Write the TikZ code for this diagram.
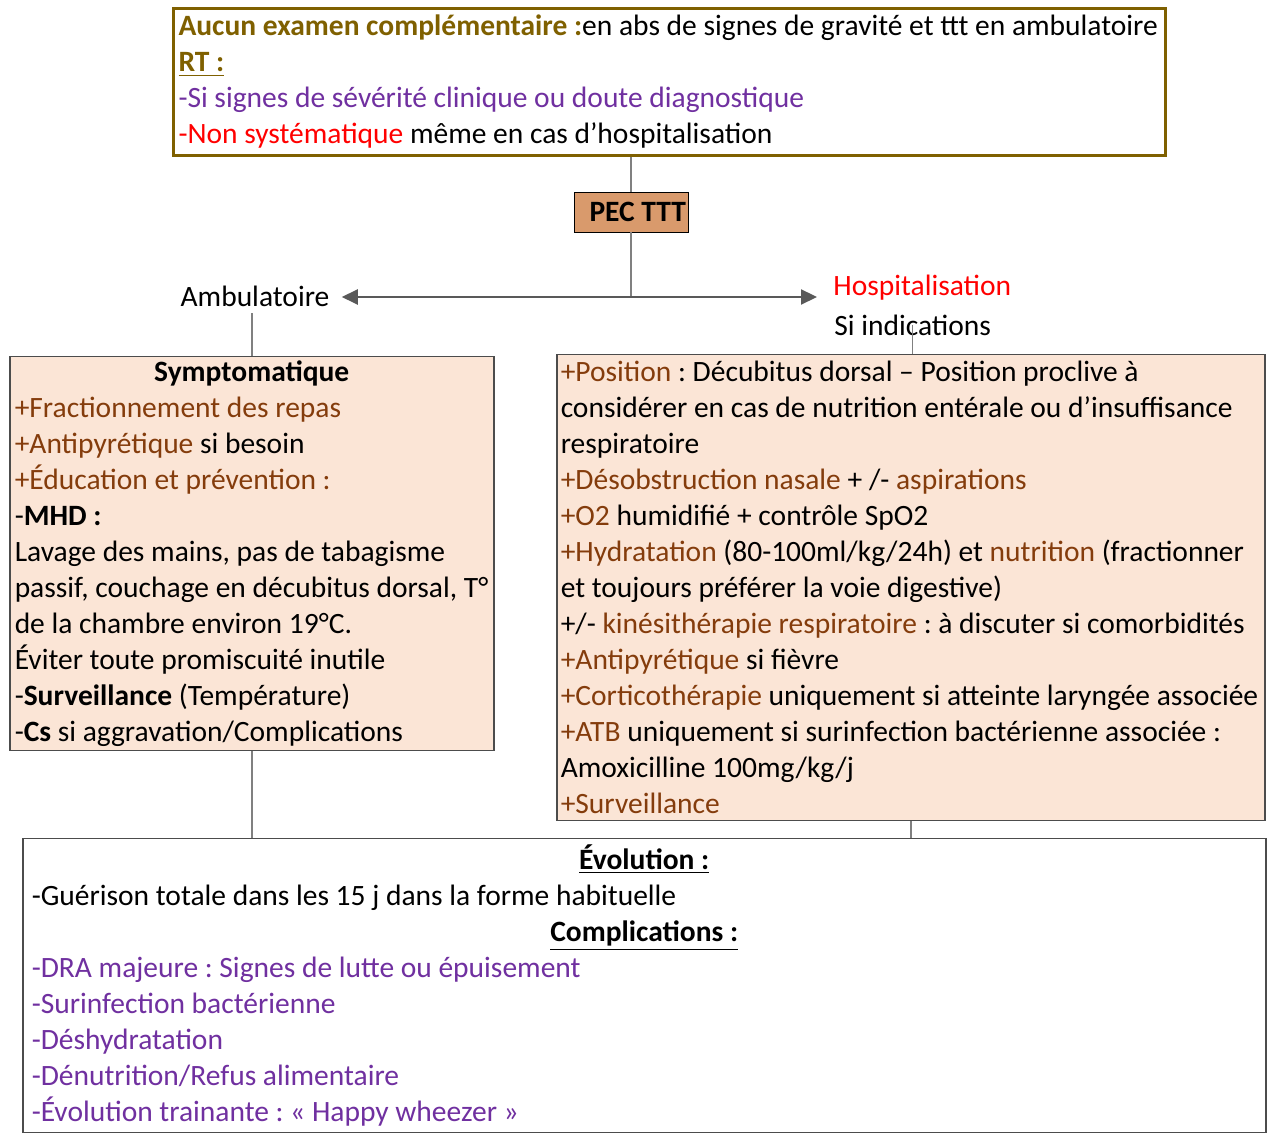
\documentclass[tikz,border=0pt]{standalone}
\usepackage{fontspec}
\setmainfont{Carlito}
\usetikzlibrary{arrows.meta,positioning}
\definecolor{olivebrun}{HTML}{7F6000}
\definecolor{brun}{HTML}{843C0C}
\definecolor{violet}{HTML}{7030A0}
\definecolor{peau}{HTML}{FBE5D6}
\definecolor{pecfond}{HTML}{D99A6C}
\definecolor{grisfleche}{HTML}{595959}
\newcommand{\br}[1]{\textcolor{brun}{#1}}
\newcommand{\vi}[1]{\textcolor{violet}{#1}}
\frenchspacing
\begin{document}
\begin{tikzpicture}[x=0.5pt,y=-0.5pt,
    every node/.style={font=\fontsize{14.75}{18}\selectfont},
    boite/.style={draw=black!70,line width=0.75pt,anchor=north west,align=flush left,inner xsep=4pt,inner ysep=0pt},
    lien/.style={draw=black!50,line width=0.75pt},
    fleche/.style={draw=grisfleche,line width=1.1pt,-{Triangle[length=8pt,width=7.5pt]}}]
  \useasboundingbox (0,0) rectangle (1270,1133);
  % top box
  \node[boite,draw=olivebrun,line width=1.5pt,minimum width=496pt,minimum height=73.5pt,text width=491pt,inner xsep=2.5pt] (haut) at (172,7)
    {\textcolor{olivebrun}{\textbf{Aucun examen complémentaire :}}en abs de signes de gravité et ttt en ambulatoire\\
     \textcolor{olivebrun}{\textbf{\underline{RT :}}}\\
     \vi{-Si signes de sévérité clinique ou doute diagnostique}\\
     \textcolor{red}{-Non systématique} même en cas d’hospitalisation};
  \node[draw=black,fill=pecfond,minimum height=20pt,text width=55pt,align=flush right,inner xsep=1pt,inner ysep=0pt,font=\fontsize{14.75}{18}\selectfont\bfseries] (pec) at (631,212) {PEC TTT};
  \coordinate (split) at (631,297);
  \node[inner xsep=6pt] (ambu) at (255,296) {Ambulatoire};
  \node[text=red,anchor=west,inner xsep=8pt] (hospi) at (817,288) {Hospitalisation};
  \node[anchor=west,inner sep=0pt] (siind) at (834,325) {Si indications};
  % boxes
  \node[boite,fill=peau,minimum width=242pt,minimum height=197pt,text width=237pt,inner xsep=2.5pt] (symp) at (9,356)
    {\makebox[\linewidth]{\textbf{Symptomatique}}\\
     \br{+Fractionnement des repas}\\
     \br{+Antipyrétique} si besoin\\
     \br{+Éducation et prévention :}\\
     -\textbf{MHD :}\\
     Lavage des mains, pas de tabagisme\\
     passif, couchage en décubitus dorsal, T°\\
     de la chambre environ 19°C.\\
     Éviter toute promiscuité inutile\\
     -\textbf{Surveillance} (Température)\\
     -\textbf{Cs} si aggravation/Complications};
  \node[boite,fill=peau,minimum width=354pt,minimum height=233pt,text width=350pt,inner xsep=2pt] (hosp) at (556,354)
    {\br{+Position} : Décubitus dorsal – Position proclive à\\
     considérer en cas de nutrition entérale ou d’insuffisance\\
     respiratoire\\
     \br{+Désobstruction nasale} + /- \br{aspirations}\\
     \br{+O2} humidifié + contrôle SpO2\\
     \br{+Hydratation} (80-100ml/kg/24h) et \br{nutrition} (fractionner\\
     et toujours préférer la voie digestive)\\
     +/- \br{kinésithérapie respiratoire} : à discuter si comorbidités\\
     \br{+Antipyrétique} si fièvre\\
     \br{+Corticothérapie} uniquement si atteinte laryngée associée\\
     \br{+ATB} uniquement si surinfection bactérienne associée :\\
     Amoxicilline 100mg/kg/j\\
     \br{+Surveillance}};
  \node[boite,fill=white,minimum width=621.5pt,minimum height=147pt,text width=612.5pt,inner xsep=4.5pt] (evol) at (22,838)
    {\makebox[\linewidth]{\textbf{\underline{Évolution :}}}\\
     -Guérison totale dans les 15 j dans la forme habituelle\\
     \makebox[\linewidth]{\textbf{\underline{Complications :}}}\\
     \vi{-DRA majeure : Signes de lutte ou épuisement}\\
     \vi{-Surinfection bactérienne}\\
     \vi{-Déshydratation}\\
     \vi{-Dénutrition/Refus alimentaire}\\
     \vi{-Évolution trainante : « Happy wheezer »}};
  % connectors
  \draw[lien] (pec.north |- haut.south) -- (pec.north);
  \draw[lien] (pec.south) -- (split);
  \draw[fleche] (split) -- (ambu.east |- split);
  \draw[fleche] (split) -- (hospi.west |- split);
  \draw[lien] (symp.north |- ambu.south) -- (symp.north);
  \draw[lien] (siind.center) -- (siind.center |- hosp.north);
  \draw[lien] (symp.south) -- (symp.south |- evol.north);
  \draw[lien] (hosp.south) -- (hosp.south |- evol.north);
\end{tikzpicture}
\end{document}
